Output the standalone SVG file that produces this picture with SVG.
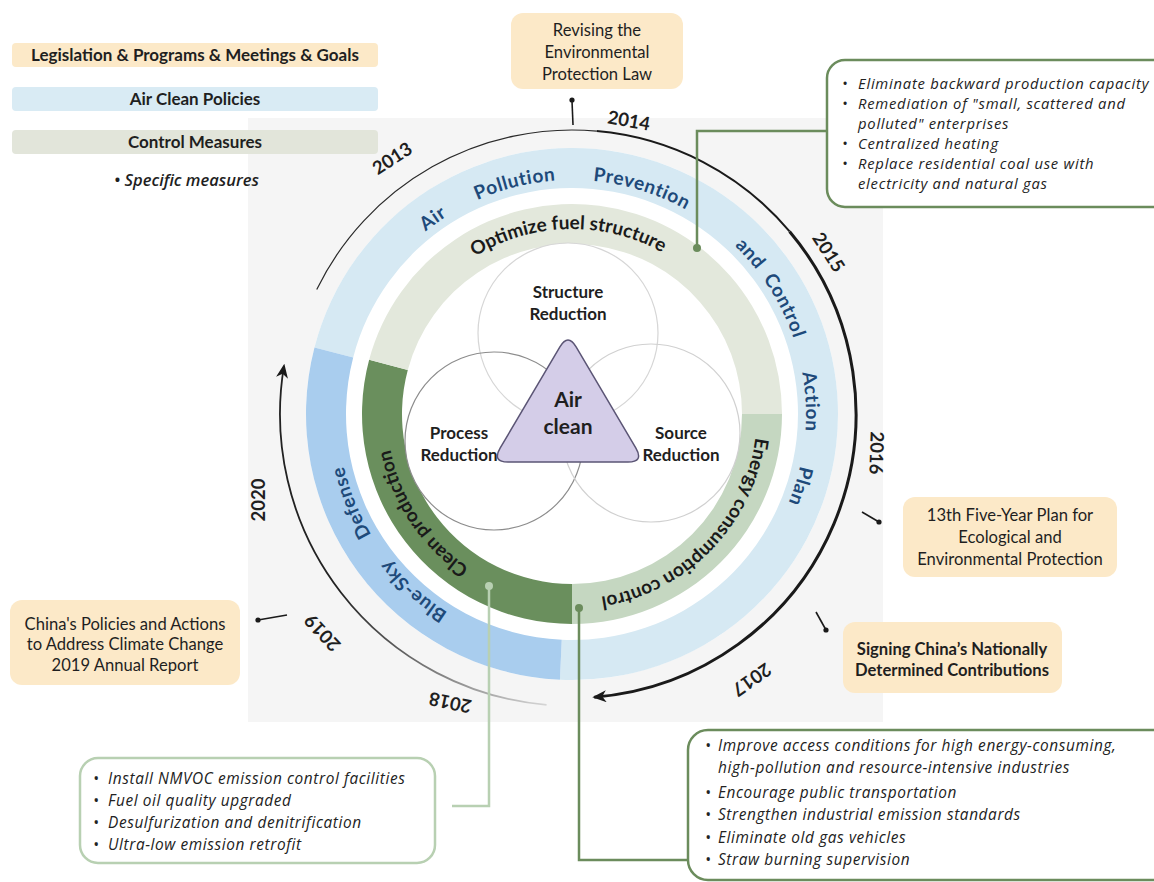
<svg xmlns="http://www.w3.org/2000/svg" width="1154" height="882" viewBox="0 0 1154 882">
  <defs>
    <style>
      .t { font-family: Lato, "Open Sans", "Liberation Sans", sans-serif; fill: #1f1f1f; }
      .os { font-family: "Open Sans", Lato, "Liberation Sans", sans-serif; }
      .b { font-weight: 700; }
      .i { font-style: italic; }
      .lbl { font-size: 16.6px; text-anchor: middle; }
      .leg { font-size: 17px; font-weight: 700; text-anchor: middle; }
      .lst { font-size: 15.4px; font-style: italic; fill: #222; letter-spacing: 0.6px; }
      .lst-tight { font-size: 14.8px; letter-spacing: 0.75px; }
      .yr { font-size: 18.5px; font-weight: 700; text-anchor: middle; dominant-baseline: central; }
      .ring-blue { font-size: 19px; font-weight: 700; fill: #1e4a7a; letter-spacing: 0.6px; }
      .ring-green { font-size: 19px; font-weight: 700; fill: #1a1a1a; }
      .venn { font-size: 17px; font-weight: 700; text-anchor: middle; }
      .goal { fill: #fce9c8; }
      .tick { stroke: #1a1a1a; stroke-width: 1.6; fill: none; }
      .dot { fill: #1a1a1a; }
      .link-dark { stroke: #6b8c5c; stroke-width: 2.5; fill: none; }
      .link-light { stroke: #b8d0b2; stroke-width: 2.5; fill: none; }
      .circ { fill: none; stroke-width: 1.2; }
    </style>
    <marker id="arrowHead" viewBox="0 0 14 12" refX="12" refY="6" markerWidth="14" markerHeight="12" markerUnits="userSpaceOnUse" orient="auto">
      <path d="M0,0 L14,6 L0,12 L4,6 z" fill="#1a1a1a"/>
    </marker>
    <linearGradient id="fadeArc" gradientUnits="userSpaceOnUse" x1="550" y1="705" x2="330" y2="610">
      <stop offset="0" stop-color="#d8d8d8"/>
      <stop offset="1" stop-color="#222"/>
    </linearGradient>
    <!-- baseline circles for the curved ring labels, starting at the bottom and running clockwise -->
    <path id="blueArc" d="M572,648 A234,234 0 1 1 572,180 A234,234 0 1 1 572,648"/>
    <path id="greenArc" d="M572,599 A185,185 0 1 1 572,229 A185,185 0 1 1 572,599"/>
  </defs>

  <rect x="0" y="0" width="1154" height="882" fill="#ffffff"/>

  <!-- light panel behind the wheel -->
  <rect x="248" y="118" width="635" height="604" fill="#f5f5f5"/>
  <circle cx="572" cy="414" r="266" fill="#ffffff"/>

  <!-- legend -->
  <g id="legend">
    <rect x="12" y="43" width="366" height="24" rx="4" class="goal"/>
    <text x="195" y="61" class="t leg">Legislation &amp; Programs &amp; Meetings &amp; Goals</text>
    <rect x="12" y="87" width="366" height="24" rx="4" fill="#d9ebf4"/>
    <text x="195" y="105" class="t leg">Air Clean Policies</text>
    <rect x="12" y="130" width="366" height="24" rx="4" fill="#e2e5da"/>
    <text x="195" y="148" class="t leg">Control Measures</text>
    <text x="114" y="186" class="t os i" font-size="16.5" font-weight="600">•  Specific measures</text>
  </g>

  <!-- policy ring -->
  <g id="policy-ring">
    <path d="M314.47,347.40 A266,266 0 1 1 559.93,679.73 L561.75,639.77 A226,226 0 1 0 353.20,357.41 Z" fill="#d6e9f3"/>
    <path d="M559.93,679.73 A266,266 0 0 1 314.47,347.40 L353.20,357.41 A226,226 0 0 0 561.75,639.77 Z" fill="#a9cdee"/>
    <text class="t ring-blue"><textPath href="#blueArc" startOffset="171" text-anchor="middle">Blue-Sky</textPath></text>
    <text class="t ring-blue"><textPath href="#blueArc" startOffset="278" text-anchor="middle">Defense</textPath></text>
    <text class="t ring-blue"><textPath href="#blueArc" startOffset="590" text-anchor="middle">Air</textPath></text>
    <text class="t ring-blue"><textPath href="#blueArc" startOffset="678" text-anchor="middle">Pollution</textPath></text>
    <text class="t ring-blue"><textPath href="#blueArc" startOffset="805" text-anchor="middle">Prevention</textPath></text>
    <text class="t ring-blue"><textPath href="#blueArc" startOffset="931" text-anchor="middle">and</textPath></text>
    <text class="t ring-blue"><textPath href="#blueArc" startOffset="992" text-anchor="middle">Control</textPath></text>
    <text class="t ring-blue"><textPath href="#blueArc" startOffset="1090" text-anchor="middle">Action</textPath></text>
    <text class="t ring-blue"><textPath href="#blueArc" startOffset="1174" text-anchor="middle">Plan</textPath></text>
  </g>

  <!-- control measure ring -->
  <g id="measure-ring">
    <path d="M572,624 A210,210 0 0 1 369.16,359.65 L407.79,370.00 A170,170 0 0 0 572,584 Z" fill="#6a8f5d"/>
    <path d="M369.16,359.65 A210,210 0 0 1 782,414 L742,414 A170,170 0 0 0 407.79,370.00 Z" fill="#e3e8dc"/>
    <path d="M782,414 A210,210 0 0 1 572,624 L572,584 A170,170 0 0 0 742,414 Z" fill="#c5d7c1"/>
    <text class="t ring-green"><textPath href="#greenArc" startOffset="182" text-anchor="middle">Clean production</textPath></text>
    <text class="t ring-green"><textPath href="#greenArc" startOffset="577" text-anchor="middle">Optimize fuel structure</textPath></text>
    <text class="t ring-green"><textPath href="#greenArc" startOffset="1014" text-anchor="middle">Energy consumption control</textPath></text>
  </g>

  <!-- three reduction paths -->
  <g id="venn">
    <circle cx="568" cy="333" r="90" fill="#ffffff"/>
    <circle cx="494" cy="441" r="89" fill="#ffffff"/>
    <circle cx="651" cy="433" r="89" fill="#ffffff"/>
    <circle cx="568" cy="333" r="90" class="circ" stroke="#d6d6d6"/>
    <circle cx="494" cy="441" r="89" class="circ" stroke="#8c8c8c"/>
    <circle cx="651" cy="433" r="89" class="circ" stroke="#d0d0d0"/>
    <text class="t venn" x="568" y="298">Structure</text>
    <text class="t venn" x="568" y="320">Reduction</text>
    <text class="t venn" x="459" y="439">Process</text>
    <text class="t venn" x="459" y="461">Reduction</text>
    <text class="t venn" x="681" y="439">Source</text>
    <text class="t venn" x="681" y="461">Reduction</text>
  </g>

  <g id="air-clean">
    <path d="M576.1,346.8 L635.9,448.2 Q644,462 628,462 L508,462 Q492,462 500.1,448.2 L559.9,346.8 Q568,333 576.1,346.8 Z" fill="#d4cde8" stroke="#5b5575" stroke-width="1.5"/>
    <text class="t b" x="568" y="407" font-size="21" text-anchor="middle">Air</text>
    <text class="t b" x="568" y="434" font-size="21" text-anchor="middle">clean</text>
  </g>

  <!-- timeline -->
  <g id="timeline">
    <path d="M316.74,289.50 A284,284 0 0 1 596.75,131.08" fill="none" stroke="#2a2a2a" stroke-width="1.2"/>
    <path d="M596.75,131.08 A284,284 0 0 1 789.56,231.45" fill="none" stroke="#1a1a1a" stroke-width="2"/>
    <path d="M789.56,231.45 A284,284 0 0 1 594.28,697.13" fill="none" stroke="#1a1a1a" stroke-width="3" marker-end="url(#arrowHead)"/>
    <path d="M546.55,704.89 A292,292 0 0 1 284.00,365.81" fill="none" stroke="url(#fadeArc)" stroke-width="1.8" marker-end="url(#arrowHead)"/>
    <text class="t yr" transform="translate(392,158) rotate(-33)">2013</text>
    <text class="t yr" transform="translate(629,120) rotate(10)">2014</text>
    <text class="t yr" transform="translate(829,252) rotate(57)">2015</text>
    <text class="t yr" transform="translate(877,453) rotate(92)">2016</text>
    <text class="t yr" transform="translate(752,680) rotate(145)">2017</text>
    <text class="t yr" transform="translate(450,703) rotate(192)">2018</text>
    <text class="t yr" transform="translate(322,633) rotate(227)">2019</text>
    <text class="t yr" transform="translate(258,500) rotate(-90)">2020</text>
  </g>

  <!-- connectors: year ticks and measure links -->
  <g id="connectors">
    <path class="tick" d="M573,125 L572,101"/>
    <circle class="dot" cx="572" cy="100" r="2.6"/>
    <path class="tick" d="M862,512 L879,522"/>
    <circle class="dot" cx="879" cy="522" r="2.6"/>
    <path class="tick" d="M816,612 L826,630"/>
    <circle class="dot" cx="826" cy="630" r="2.6"/>
    <path class="tick" d="M287,615 L258,620"/>
    <circle class="dot" cx="258" cy="620" r="2.6"/>

    <path class="link-dark" d="M697,248 L697,131 L827,131"/>
    <circle cx="697" cy="248" r="4" fill="#6b8c5c"/>
    <path class="link-light" d="M489,586 L489,806 L452,806"/>
    <circle cx="489" cy="586" r="4" fill="#b8d0b2"/>
    <path class="link-dark" d="M579,608 L579,860 L688,860"/>
    <circle cx="579" cy="608" r="4" fill="#6b8c5c"/>
  </g>

  <!-- programmes and goals -->
  <g id="env-law">
    <rect x="511" y="13" width="172" height="76" rx="12" class="goal"/>
    <text class="t lbl" x="597" y="36">Revising the</text>
    <text class="t lbl" x="597" y="58">Environmental</text>
    <text class="t lbl" x="597" y="80">Protection Law</text>
  </g>
  <g id="five-year-plan">
    <rect x="903" y="497" width="214" height="80" rx="12" class="goal"/>
    <text class="t lbl" x="1010" y="521">13th Five-Year Plan for</text>
    <text class="t lbl" x="1010" y="543">Ecological and</text>
    <text class="t lbl" x="1010" y="565">Environmental Protection</text>
  </g>
  <g id="ndc">
    <rect x="843" y="622" width="219" height="71" rx="12" class="goal"/>
    <text class="t lbl b" x="952" y="655" font-size="16.3">Signing China’s Nationally</text>
    <text class="t lbl b" x="952" y="676" font-size="16.3">Determined Contributions</text>
  </g>
  <g id="climate-report">
    <rect x="10" y="600" width="230" height="85" rx="12" class="goal"/>
    <text class="t lbl" x="125" y="630" font-size="17">China's Policies and Actions</text>
    <text class="t lbl" x="125" y="650" font-size="17">to Address Climate Change</text>
    <text class="t lbl" x="125" y="671" font-size="17">2019 Annual Report</text>
  </g>

  <!-- specific measures -->
  <g id="fuel-measures">
    <rect x="827" y="60" width="345" height="147" rx="18" fill="#ffffff" stroke="#6b8c5c" stroke-width="2.5"/>
    <text class="t os lst lst-tight">
      <tspan x="842" y="89">•</tspan><tspan x="858" y="89">Eliminate backward production capacity</tspan>
      <tspan x="842" y="109">•</tspan><tspan x="858" y="109">Remediation of "small, scattered and</tspan>
      <tspan x="858" y="129">polluted" enterprises</tspan>
      <tspan x="842" y="149">•</tspan><tspan x="858" y="149">Centralized heating</tspan>
      <tspan x="842" y="169">•</tspan><tspan x="858" y="169">Replace residential coal use with</tspan>
      <tspan x="858" y="189">electricity and natural gas</tspan>
    </text>
  </g>
  <g id="production-measures">
    <rect x="80" y="758" width="355" height="105" rx="18" fill="#ffffff" stroke="#b8d0b2" stroke-width="2.5"/>
    <text class="t os lst">
      <tspan x="93" y="784">•</tspan><tspan x="108" y="784">Install NMVOC emission control facilities</tspan>
      <tspan x="93" y="806">•</tspan><tspan x="108" y="806">Fuel oil quality upgraded</tspan>
      <tspan x="93" y="828">•</tspan><tspan x="108" y="828">Desulfurization and denitrification</tspan>
      <tspan x="93" y="850">•</tspan><tspan x="108" y="850">Ultra-low emission retrofit</tspan>
    </text>
  </g>
  <g id="energy-measures">
    <rect x="688" y="730" width="490" height="150" rx="20" fill="#ffffff" stroke="#6b8c5c" stroke-width="2.5"/>
    <text class="t os lst">
      <tspan x="705" y="751">•</tspan><tspan x="718" y="751">Improve access conditions for high energy-consuming,</tspan>
      <tspan x="718" y="773">high-pollution and resource-intensive industries</tspan>
      <tspan x="705" y="798">•</tspan><tspan x="718" y="798">Encourage public transportation</tspan>
      <tspan x="705" y="820">•</tspan><tspan x="718" y="820">Strengthen industrial emission standards</tspan>
      <tspan x="705" y="843">•</tspan><tspan x="718" y="843">Eliminate old gas vehicles</tspan>
      <tspan x="705" y="865">•</tspan><tspan x="718" y="865">Straw burning supervision</tspan>
    </text>
  </g>
</svg>
